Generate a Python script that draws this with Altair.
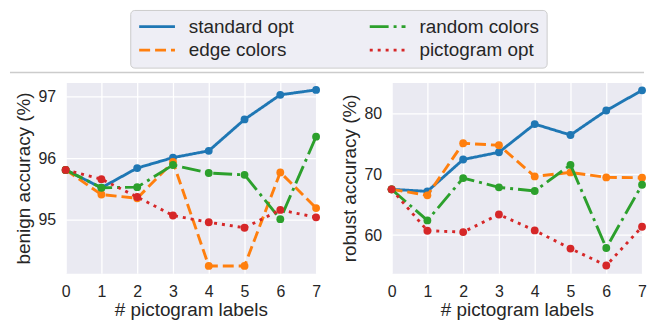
import altair as alt
import pandas as pd

# ---------------- data ----------------
x_vals = [0, 1, 2, 3, 4, 5, 6, 7]
x_ticks = [0, 1, 2, 3, 4, 5, 6, 7]

series_names = ["standard opt", "edge colors", "random colors", "pictogram opt"]

benign_standard = [95.81, 95.52, 95.84, 96.01, 96.12, 96.63, 97.03, 97.11]
benign_edge = [95.81, 95.41, 95.35, 95.94, 94.25, 94.25, 95.77, 95.19]
benign_random = [95.81, 95.52, 95.53, 95.89, 95.76, 95.73, 95.01, 96.35]
benign_picto = [95.81, 95.66, 95.37, 95.07, 94.96, 94.87, 95.16, 95.04]

robust_standard = [67.52, 67.19, 72.43, 73.62, 78.26, 76.46, 80.49, 83.81]
robust_edge = [67.52, 66.54, 75.10, 74.77, 69.65, 70.30, 69.48, 69.43]
robust_random = [67.52, 62.40, 69.37, 67.85, 67.25, 71.55, 57.87, 68.28]
robust_picto = [67.52, 60.71, 60.49, 63.38, 60.76, 57.77, 54.99, 61.36]

benign_ticks = [95, 96, 97]
robust_ticks = [60, 70, 80]
benign_domain = [94.13, 97.23]
robust_domain = [53.7, 85.1]

# legend order (fills column by column, 2 columns) and styles
legend_order = ["standard opt", "edge colors", "random colors", "pictogram opt"]
legend_colors = ["#1f77b4", "#ff7f0e", "#2ca02c", "#d62728"]
legend_dashes = [[1, 0], [11, 5], [19, 5, 3, 5], [3, 5]]


def long_df(values_list):
    rows = []
    for name, vals in zip(series_names, values_list):
        for x, v in zip(x_vals, vals):
            rows.append({"x": x, "value": v, "series": name})
    return pd.DataFrame(rows)


benign_df = long_df([benign_standard, benign_edge, benign_random, benign_picto])
robust_df = long_df([robust_standard, robust_edge, robust_random, robust_picto])

TEXT = "#262626"

legend = alt.Legend(
    title=None,
    orient="none",
    legendX=65,
    legendY=-73,
    columns=2,
    symbolType="M-7.5,0H28.5",
    symbolSize=4,
    symbolStrokeWidth=2.7,
    labelFontSize=19,
    labelColor=TEXT,
    labelOffset=33,
    columnPadding=70,
    rowPadding=4,
    padding=7,
    fillColor="#EEEEF5",
    strokeColor="#CCCCCC",
    cornerRadius=4,
)

color_scale = alt.Scale(domain=legend_order, range=legend_colors)
dash_scale = alt.Scale(domain=legend_order, range=legend_dashes)


def panel(df, ytitle, ydomain, yticks, with_rule):
    X = alt.X(
        "x:Q",
        scale=alt.Scale(domain=[0, 7], nice=False, zero=False),
        axis=alt.Axis(values=x_ticks, format="d", labelFlush=False, title="# pictogram labels"),
    )
    Y = alt.Y(
        "value:Q",
        scale=alt.Scale(domain=ydomain, nice=False, zero=False),
        axis=alt.Axis(values=yticks, format="d", title=ytitle),
    )
    layers = []
    for s in series_names:
        sub = alt.Chart(df).transform_filter(alt.datum.series == s)
        line = sub.mark_line(strokeWidth=2.9).encode(
            x=X,
            y=Y,
            color=alt.Color("series:N", scale=color_scale, legend=legend),
            strokeDash=alt.StrokeDash("series:N", scale=dash_scale, legend=legend),
        )
        pts = sub.mark_circle(size=62, opacity=1).encode(
            x=X,
            y=Y,
            fill=alt.Fill("series:N", scale=color_scale, legend=None),
        )
        layers += [line, pts]
    if with_rule:
        rule = alt.Chart(pd.DataFrame({"k": [0]})).mark_rule(
            color="#CCCCCC", strokeWidth=1.6
        ).encode(x=alt.value(-56), x2=alt.value(582), y=alt.value(-10))
        layers.append(rule)
    return alt.layer(*layers).properties(width=252, height=192)


left = panel(benign_df, "benign accuracy (%)", benign_domain, benign_ticks, True)
right = panel(robust_df, "robust accuracy (%)", robust_domain, robust_ticks, False)

chart = (
    alt.hconcat(left, right, spacing=76, bounds="flush", padding=0, background="white")
    .resolve_scale(fill="independent")
    .configure(font="Liberation Sans")
    .configure_view(fill="#EAEAF2", stroke="transparent")
    .configure_axis(
        grid=True,
        gridColor="white",
        gridWidth=1.3,
        domain=False,
        ticks=False,
        tickSize=0,
        labelFontSize=16,
        titleFontSize=19,
        labelColor=TEXT,
        titleColor=TEXT,
        titleFontWeight="normal",
        labelPadding=10,
    )
    .configure_axisY(titlePadding=5)
    .configure_axisX(titlePadding=1)
)

chart.save("out.html", embed_options={"renderer": "svg", "actions": False})
